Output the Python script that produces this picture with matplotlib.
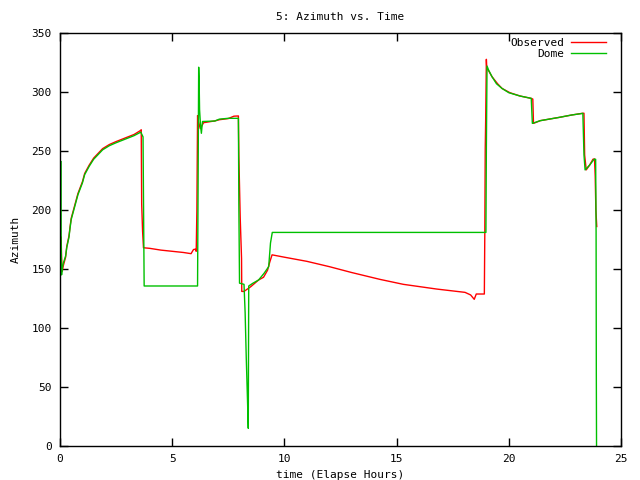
import matplotlib
matplotlib.use('Agg')
import matplotlib.pyplot as plt

# observed azimuth (red)
obs_t = [0.05, 0.07, 0.1, 0.15, 0.25, 0.3, 0.4, 0.45, 0.5, 0.6, 0.7, 0.8, 1.0, 1.1, 1.3, 1.5,
         1.7, 1.9, 2.2, 2.5, 2.9, 3.3, 3.6, 3.62, 3.64, 3.68, 3.72, 4.0, 4.5, 5.0, 5.5, 5.84,
         5.95, 6.03, 6.07, 6.1, 6.13, 6.17, 6.25, 6.4, 6.9, 7.1, 7.5, 7.75, 7.95, 7.97, 8.03,
         8.09, 8.1, 8.2, 8.5, 8.85, 9.07, 9.25, 9.35, 9.45, 10.0, 11.0, 12.0, 13.0, 14.26,
         15.3, 16.79, 18.05, 18.3, 18.46, 18.55, 18.91, 18.93, 18.95, 18.97, 19.0, 19.02,
         19.1, 19.25, 19.5, 19.7, 20.05, 20.5, 21.0, 21.07, 21.1, 21.4, 22.25, 22.8, 23.3,
         23.35, 23.38, 23.45, 23.6, 23.75, 23.82, 23.85, 23.88, 23.92]
obs_az = [177, 160, 148, 153, 160, 169, 178, 186, 193, 200, 207, 214, 224, 231, 238, 244,
          248, 252, 255.5, 258, 261, 264, 267.5, 268, 205, 182, 168, 167.5, 166, 165, 164, 163,
          166.5, 166.8, 165, 200, 280, 275, 269, 274, 275.5, 276.5, 277.5, 279.5, 279.7, 246, 194,
          159, 131, 131, 135, 140.7, 143, 149, 156, 162, 160, 156.5, 152, 147, 141.2,
          137, 133, 130.2, 128, 124.3, 128.8, 128.8, 178.8, 252, 277, 327.7, 320,
          318, 313, 307, 303, 299.4, 296.6, 294.6, 294, 273.4, 275.7, 278.5, 280.5, 282,
          282, 246.6, 234, 238, 243, 243.3, 229, 200, 186]

# dome azimuth (green)
dome_t = [0.05, 0.05, 0.07, 0.1, 0.15, 0.25, 0.3, 0.4, 0.45, 0.5, 0.6, 0.7, 0.8, 1.0, 1.1, 1.3,
          1.5, 1.7, 1.9, 2.2, 2.5, 2.9, 3.3, 3.6, 3.7, 3.75, 6.13, 6.18, 6.2, 6.22, 6.26, 6.3,
          6.35, 6.9, 7.1, 7.5, 7.95, 7.97, 8.0, 8.2, 8.25, 8.3, 8.36, 8.39, 8.41, 8.6, 8.85,
          9.1, 9.3, 9.38, 9.46, 18.98, 19.0, 19.03, 19.1, 19.25, 19.45, 19.7, 20.0, 20.5, 21.0,
          21.05, 21.4, 22.25, 22.8, 23.3, 23.35, 23.4, 23.6, 23.8, 23.87, 23.89, 23.9, 23.91]
dome_az = [241, 177, 145, 151, 155, 161, 168, 177, 185, 192, 199, 206, 213, 223, 230, 237,
           243, 247, 251, 254.5, 257, 260, 263, 266, 262, 135.6, 135.6, 321, 309, 285, 272, 265,
           275, 275.4, 277, 277.7, 277.7, 205, 138, 137, 113, 75, 36, 15, 135.6, 138, 140.7,
           146.5, 152, 172, 181, 181, 252, 322, 318.6, 313, 307, 303, 299.4, 296.6, 294.6,
           273.4, 275.7, 278.5, 280.5, 281.9, 246.6, 234, 238, 243, 243, 181.6, 61.7, 0]

plt.rcParams['font.family'] = 'DejaVu Sans Mono'
plt.rcParams['font.size'] = 8

fig = plt.figure(figsize=(6.4, 4.8), dpi=100)
ax = fig.add_axes([60 / 640, 34 / 480, 561 / 640, 413 / 480])

ax.plot(obs_t, obs_az, color='#ff0000', lw=1.0, label='Observed')
ax.plot(dome_t, dome_az, color='#00c000', lw=1.0, label='Dome')

ax.set_xlim(0, 25)
ax.set_ylim(0, 350)
ax.set_xticks(range(0, 26, 5))
ax.set_yticks(range(0, 351, 50))
ax.tick_params(direction='in', length=6, width=1, top=True, right=True, pad=6)
for s in ax.spines.values():
    s.set_linewidth(1.0)

ax.set_title('5: Azimuth vs. Time', fontsize=8, pad=9)
ax.set_xlabel('time (Elapse Hours)', labelpad=4)
ax.set_ylabel('Azimuth', labelpad=8)

ax.legend(loc='upper right', bbox_to_anchor=(1 - 7 / 561, 1 + 3 / 413), frameon=False,
          markerfirst=False, handlelength=3.2, borderaxespad=0.3, labelspacing=0.1,
          handletextpad=0.6)

fig.savefig('out.png', dpi=100)
